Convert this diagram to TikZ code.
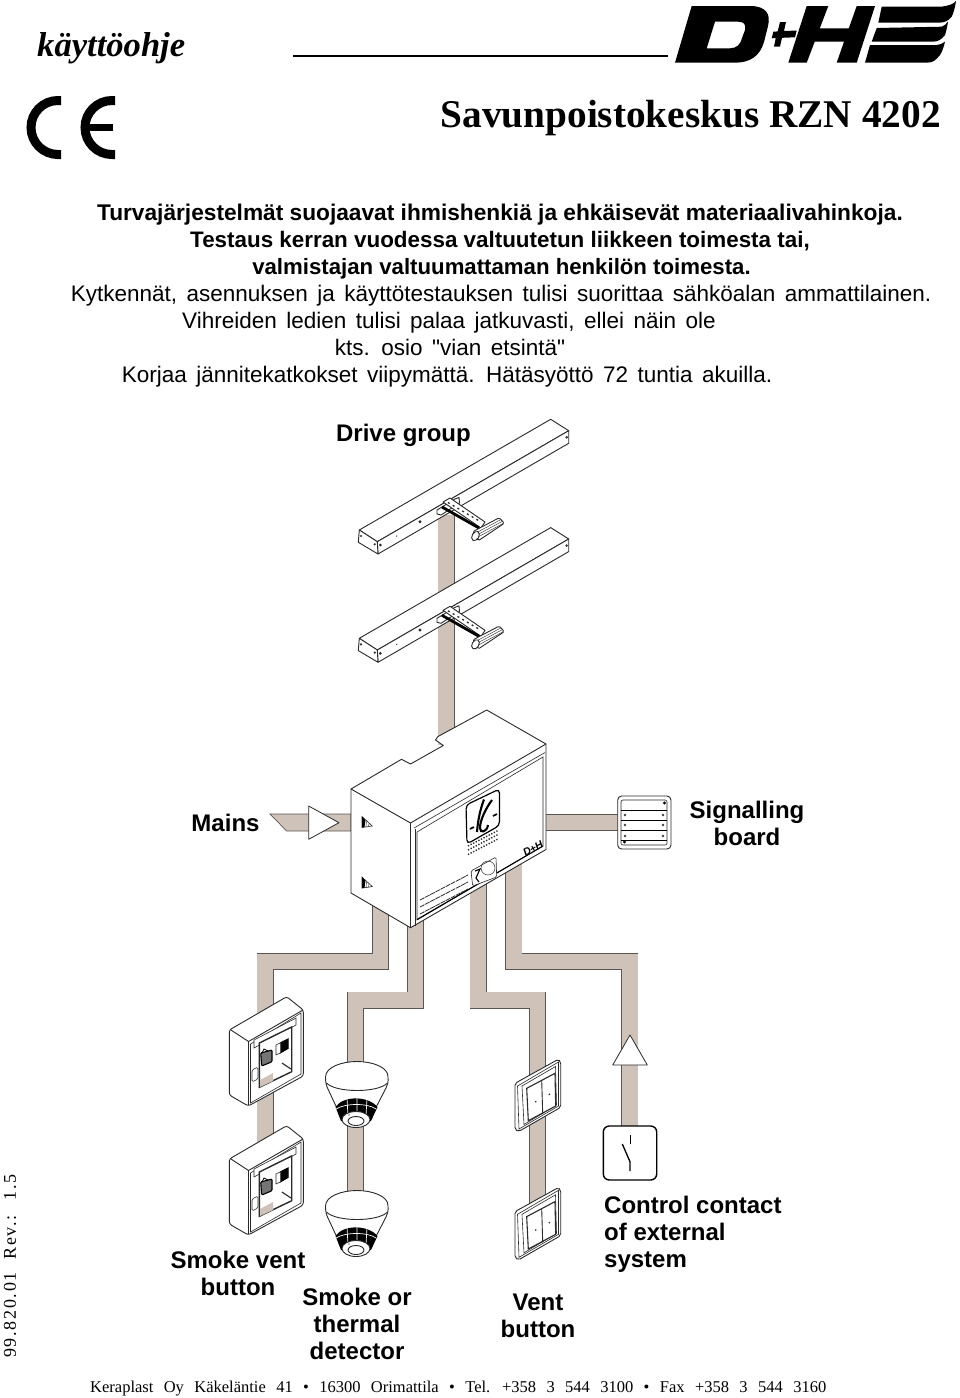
\documentclass[tikz,border=0pt]{standalone}
\usepackage{fontspec}
\setmainfont{Liberation Sans}
\newfontfamily\tmsfont{Liberation Serif}
\newfontfamily\straightq{Liberation Sans}
\newcommand{\widesp}[1]{\spaceskip=#1em\relax}
\definecolor{wirefill}{HTML}{CFC3B9}
\definecolor{wireedge}{HTML}{5A5550}
\definecolor{ink}{HTML}{2A2A2A}
\tikzset{
  wire/.style={draw=wireedge,double=wirefill,double distance=15.6pt,line width=.7pt,line join=miter},
  part/.style={draw=ink,fill=white,line width=.9pt,line join=round},
  thin part/.style={draw=ink,line width=.6pt},
  label/.style={font=\fontsize{24}{27}\selectfont\bfseries,inner sep=0pt,align=center},
  headb/.style={font=\fontsize{22.7}{25}\selectfont\bfseries,inner sep=0pt,anchor=base},
  headr/.style={font=\fontsize{22.5}{25}\selectfont,inner sep=0pt,anchor=base},
}
\newcommand{\ActuatorShape}{%
  \draw[part] (359.3,530) -- (550.7,419.3) -- (568.7,430.7) -- (377.3,541.7) -- cycle;
  \draw[part] (377.3,541.7) -- (568.7,430.7) -- (568.7,443.3) -- (378,554) -- cycle;
  \draw[part] (359.3,530) -- (377.3,541.7) -- (378,554) -- (358.3,542.3) -- cycle;
  \fill[ink] (361,536) circle (1.2) (374.7,544.3) circle (1.2) (380.3,545) circle (1.5) (566.7,437.3) circle (1.4);
  \fill[ink] (420,521.7) circle (1.7);
  \fill[ink] (396.7,536) circle (.7);
  \draw[part] (437,510) -- (455,499) -- (459,497.5) -- (459.5,503) -- (441,515) -- (437,514) -- cycle;
  \draw[part] (443,502) -- (450,498) -- (485,522) -- (481,528) -- cycle;
  \draw[black,line width=2.8pt] (442,507) -- (479,528);
  \draw[ink,line width=1.3pt,dash pattern=on 2pt off 3.5pt] (448,502.5) -- (481,522);
  \draw[part,rounded corners=1.5pt] (472.7,531.7) -- (499.3,517.7) -- (504.3,523.3) -- (478.3,540.7) -- cycle;
  \draw[ink,line width=.4pt] (475,533.5) -- (501,519.5) (476,535.5) -- (502,521.5) (477,537.5) -- (503,523.5);
  \draw[part,rotate around={-30:(475.5,536)}] (475.5,536) ellipse (3.4 and 5);
}
\newcommand{\SmokeBtn}{%
  \draw[part,rounded corners=2.5pt] (229.3,1030) -- (286.7,996.7) -- (303.3,1010) -- (303.3,1076) -- (248.3,1106) -- (229.3,1095) -- cycle;
  \draw[part,fill=none] (231,1030) -- (248.5,1041.5) -- (248.5,1105);
  \draw[part,fill=none] (248.5,1041.5) -- (303,1010);
  \draw[thin part] (250.5,1044) -- (301,1013) -- (301,1074) -- (250.5,1103) -- cycle;
  \draw[thin part,fill=white] (254,1040) -- (296,1018) -- (296,1025) -- (254,1048) -- cycle;
  \draw[ink,line width=1.4pt,fill=white] (259.3,1043) -- (291.7,1027) -- (291.7,1071.7) -- (259.3,1087.3) -- cycle;
  \fill[wirefill] (260,1080) -- (273,1073) -- (273,1081) -- (260,1087) -- cycle;
  \draw[black,line width=1.1pt,fill=ink!65,rounded corners=1pt] (260.7,1053) -- (272,1050) -- (272,1061.7) -- (261.7,1066) -- cycle;
  \draw[black,line width=.8pt] (262,1053) -- (264,1049) -- (268,1051);
  \draw[black,line width=1pt,fill=black] (280.7,1042.7) -- (288,1039) -- (288,1048.5) -- (280.7,1052.7) -- cycle;
  \draw[thin part,fill=white] (276,1045) -- (280.7,1042.7) -- (280.7,1052.7) -- (276,1055) -- cycle;
  \draw[thin part,line width=1.1pt] (282,1063) -- (291,1069);
  \draw[thin part,fill=white,rounded corners=1.5pt] (252,1070) -- (258,1067) -- (258,1079) -- (252,1082) -- cycle;
}
\newcommand{\DetectorShape}{%
  \draw[part] (325.5,1077) .. controls (325.5,1067) and (342,1061.5) .. (357,1061.5) .. controls (372,1061.5) and (388.5,1067) .. (388,1077) .. controls (388.5,1082) and (387.5,1085) .. (386,1088) -- (370,1119) -- (342,1119) -- (327.5,1088) .. controls (326,1085) and (325.5,1081) .. (325.5,1077) -- cycle;
  \draw[part,fill=none] (326.5,1083) .. controls (336,1093) and (378,1093) .. (387.5,1083);
  \fill[black] (335.5,1107) .. controls (343,1095.5) and (368,1095.5) .. (377.5,1107) -- (371,1121) -- (341,1121) -- cycle;
  \draw[white,line width=.7pt] (336,1109) .. controls (345,1103) and (368,1103) .. (376,1109);
  \draw[white,line width=.7pt] (347,1098) -- (348,1116) (357,1097) -- (357,1111) (367,1098) -- (366,1116);
  \draw[part] (356,1119.5) ellipse (14 and 8);
  \draw[part] (356,1121) ellipse (8 and 4.5);
  \fill[black] (349,1115) circle (.7);
}
\newcommand{\VentBtn}{%
  \draw[part,rounded corners=2pt] (515,1083.3) -- (558.3,1059.3) -- (560.7,1061.7) -- (560.7,1107.3) -- (518.3,1131.7) -- (515,1129.3) -- cycle;
  \draw[thin part] (517.5,1086) -- (558.5,1062) -- (558.5,1106) -- (519,1129) -- cycle;
  \draw[thin part] (522,1086) -- (555.5,1066.5) -- (556.5,1105) -- (524,1124.5) -- cycle;
  \draw[ink,line width=1.1pt,fill=white] (526.7,1088.3) -- (555,1073.3) -- (555.7,1106) -- (528.3,1120.7) -- cycle;
  \draw[ink,line width=.9pt] (541.7,1080) -- (542.7,1114);
  \fill[ink] (535.7,1101.7) circle (.9) (549.3,1094.3) circle (.9);
}
\begin{document}
\begin{tikzpicture}[x=1pt,y=-1pt]
\useasboundingbox (0,0) rectangle (960,1398);

% ---------- header ----------
\node[inner sep=0pt,anchor=base west,font=\tmsfont\fontsize{34.6}{36}\selectfont\bfseries\itshape] (manual) at (37,56) {käyttöohje};
\coordinate (ruleA) at (293,56);
\coordinate (ruleB) at (668,56);
\draw[black,line width=1.1pt] (ruleA) -- (ruleB);
\node[inner sep=0pt,anchor=base east,font=\tmsfont\fontsize{39.3}{41}\selectfont\bfseries] (title) at (941,127) {Savunpoistokeskus RZN 4202};
% D+H logo
\fill[black,even odd rule] (675,62.7) -- (691.7,6) -- (750,6) .. controls (766,6) and (771,14) .. (768,26) -- (764,42) .. controls (760,56) and (750,62.7) .. (735,62.7) -- cycle
  (715,21.7) -- (706.7,48.3) -- (730,48.3) .. controls (737,48) and (740,45) .. (742,38) -- (745,30) .. controls (746,24) and (744,21.7) .. (738,21.7) -- cycle;
\fill[black] (780,22) -- (786,22) -- (784,30.8) -- (796.7,30.7) -- (795,37.3) -- (782,37.8) -- (780,46.5) -- (774,46.5) -- (775.8,38) -- (771.7,38.3) -- (773.3,31.7) -- (777.7,31.4) -- cycle;
\fill[black] (788.3,62.7) -- (806.7,6) -- (828.3,6) -- (819.8,28.3) -- (848.8,28.3) -- (856.7,6) -- (875,6) -- (856.7,62.7) -- (836.7,62.7) -- (844,41.7) -- (814.7,41.7) -- (806.7,62.7) -- cycle;
\fill[black] (881.7,6.7) -- (941,6.7) .. controls (948,6) and (954,4) .. (956,1) .. controls (955,8) and (953.5,13) .. (951.7,16.7) .. controls (948,21) and (945,22.7) .. (938,22.7) -- (878.3,22.7) -- cycle;
\fill[black] (876.7,28) -- (941.7,26.7) .. controls (944,26) and (946,24) .. (948,21.7) .. controls (947,28) and (946,32) .. (945,35) .. controls (941,40) and (938,41.7) .. (932,41.7) -- (871.7,41.7) -- cycle;
\fill[black] (870,45) -- (936.7,45) .. controls (940,45) and (942,43.5) .. (945,41.7) .. controls (943.5,48) and (942,52) .. (940,55) .. controls (936,60) and (933,62.7) .. (927,62.7) -- (865,62.7) -- cycle;
% CE mark
\draw[black,line width=9pt] (61,100.5) -- (58,100.5) arc (270:90:27) -- (61,154.5);
\draw[black,line width=9pt] (115,100.5) -- (112,100.5) arc (270:90:27) -- (115,154.5);
\draw[black,line width=6.5pt] (86,127.5) -- (113,127.5);

% ---------- notice text ----------
\node[headb] (t1) at (500,220) {Turvajärjestelmät suojaavat ihmishenkiä ja ehkäisevät materiaalivahinkoja.};
\node[headb,font=\fontsize{22.4}{25}\selectfont\bfseries] (t2) at (500,247) {Testaus kerran vuodessa valtuutetun liikkeen toimesta tai,};
\node[headb,font=\fontsize{22.2}{25}\selectfont\bfseries] (t3) at (501.5,274) {valmistajan valtuumattaman henkilön toimesta.};
\node[headr] (t4) at (501,301) {\widesp{.42}Kytkennät, asennuksen ja käyttötestauksen tulisi suorittaa sähköalan ammattilainen.};
\node[headr] (t5) at (449,328) {\widesp{.42}Vihreiden ledien tulisi palaa jatkuvasti, ellei näin ole};
\node[headr] (t6) at (450,355) {\straightq\widesp{.42}kts. osio "vian etsintä"};
\node[headr] (t7) at (447,382) {\widesp{.42}Korjaa jännitekatkokset viipymättä. Hätäsyöttö 72 tuntia akuilla.};

% ---------- connection points ----------
\coordinate (drive1) at (446,515);
\coordinate (boxTop) at (446,745);
\coordinate (boxRight) at (546,822.5);
\coordinate (boardL) at (618,822.5);
\coordinate (boxA) at (380.5,900);
\coordinate (boxB) at (415.5,920);
\coordinate (boxC) at (478,880);
\coordinate (boxD) at (513.7,860);
\coordinate (btnBottom) at (265,1180);
\coordinate (detBottom) at (355.3,1195);
\coordinate (ventBottom) at (537.6,1225);
\coordinate (contact) at (629.7,1130);

% ---------- wires ----------
\draw[wire] (drive1) -- (boxTop);
\draw[wire] (boxRight) -- (boardL);
\draw[wire] (boxA) -- (380.5,961.5) -| (btnBottom);
\draw[wire] (boxB) -- (415.5,1000) -| (detBottom);
\draw[wire] (boxC) -- (478,1000) -| (ventBottom);
\draw[wire] (boxD) -- (513.7,961.5) -| (contact);
% mains lead
\coordinate (mainsTip) at (270,814);
\draw[draw=wireedge,fill=wirefill,line width=.7pt] (mainsTip) -- (351,814) -- (351,831) -- (286.6,831) -- cycle;
\draw[part,line width=.8pt] (308.7,806) -- (339,822.7) -- (308.7,839.3) -- cycle;

% ---------- drive group ----------
\ActuatorShape
\begin{scope}[shift={(0,108.3)}]
\ActuatorShape
\end{scope}
\node[label] (drive) at (403.5,435) {Drive group};

% ---------- control box ----------
\draw[part,line width=.9pt] (351,789) -- (401.5,759.3) -- (410.5,764) -- (443.3,745.5) -- (435.5,740) -- (438,736.5) -- (486.7,710) -- (546,744) -- (546,849.5) -- (410.5,927.7) -- (351,893) -- cycle;
\draw[part,line width=.9pt,fill=none] (351,789) -- (410.5,823) -- (546,744);
\draw[part,line width=.9pt,fill=none] (410.5,823) -- (410.5,927.7);
\draw[thin part] (414,828) -- (545,752.5);
\draw[thin part] (417,832) -- (543,757) -- (543,846) -- (417,920) -- cycle;
\draw[thin part] (415,829) -- (415,925.5);
\draw[black,line width=1.1pt] (417,919.5) -- (543,846);
% lock marks
\foreach \yy in {0,60.6}{
  \begin{scope}[shift={(0,\yy)}]
  \draw[thin part,fill=white] (362,816.5) -- (372.3,826) -- (362,827.5) -- cycle;
  \fill[black] (362,816.5) -- (365.5,820) -- (364.5,827.2) -- (362,827.5) -- cycle;
  \draw[ink,line width=.4pt] (366.5,821) -- (366,827) (369,823.5) -- (368.5,826.5);
  \end{scope}
}
% emblem
\draw[black,line width=1.2pt,fill=white,rounded corners=4pt] (466,805) -- (499.5,789) -- (499.5,825.5) -- (467,844) -- cycle;
\draw[black,line width=2.1pt] (484,799.5) .. controls (480,810) and (478,820) .. (477,832);
\draw[black,line width=2.1pt] (492,800) .. controls (486,808) and (480,820) .. (480,828) .. controls (480,834) and (487,832) .. (488,825);
\draw[black,line width=1.6pt] (470,829) -- (474,827) (493,816) -- (497,814);
\foreach \dd in {0,4,8.5}{
  \draw[ink,line width=1.4pt,dash pattern=on 1.3pt off 1.6pt] (468,846+\dd) -- (498,830.5+\dd);
}
% indicator panel
\draw[thin part,fill=white,rounded corners=1.5pt] (471,871) -- (496,857) -- (496.7,877) -- (472.7,886) -- cycle;
\draw[ink,line width=.5pt] (488,868) circle (7);
\draw[black,line width=1.1pt] (475,871) -- (480,869) -- (476,878) -- (479,882);
% rating plate lines
\foreach \dd in {0,7,14}{
  \draw[ink,line width=.8pt,dash pattern=on 5pt off .8pt] (420,900+\dd) -- (468,875+\dd);
}
% small logo
\node[inner sep=0pt,rotate=30,font=\fontsize{10.5}{11}\selectfont\bfseries\itshape] (boxlogo) at (533,848.5) {D+H};

% ---------- signalling board ----------
\draw[part,rounded corners=4pt] (617.7,796) rectangle (671,849);
\draw[thin part,rounded corners=2pt] (621,800) rectangle (667,845);
\draw[black,line width=.8pt] (621,810) -- (667,810) (621,820) -- (667,820) (621,830.7) -- (667,830.7) (621,840) -- (667,840);
\fill[black] (664.5,803) circle (1.6) (624.5,842) circle (1.6);
\foreach \yy in {815,825,836}{
  \draw[ink,line width=.4pt,fill=white] (625,\yy) circle (1) (663,\yy) circle (1);
}
\node[label] (mains) at (225.5,823) {Mains};
\node[label] (board) at (747,823.5) {Signalling\\board};

% ---------- smoke vent buttons ----------
\SmokeBtn
\begin{scope}[shift={(0,129)}]
\SmokeBtn
\end{scope}
\node[label] (smoke) at (238,1273.5) {Smoke vent\\button};

% ---------- detectors ----------
\DetectorShape
\begin{scope}[shift={(0,129)}]
\DetectorShape
\end{scope}
\node[label] (detector) at (357,1324) {Smoke or\\thermal\\detector};

% ---------- vent buttons ----------
\VentBtn
\begin{scope}[shift={(0,128.3)}]
\VentBtn
\end{scope}
\node[label] (vent) at (538,1315.5) {Vent\\button};

% ---------- control contact ----------
\draw[part,line width=.8pt] (630,1035) -- (647.3,1065) -- (612.7,1065) -- cycle;
\draw[black,line width=1.4pt,fill=white,rounded corners=6pt] (603.3,1126) rectangle (656.7,1180);
\draw[black,line width=1.3pt] (630.7,1135) -- (630.7,1144);
\draw[black,line width=1.3pt] (622.3,1144) -- (630,1161.7) -- (630,1171);
\node[label,align=left,anchor=west] (contactlabel) at (604,1234) {Control contact\\of external\\system};

% ---------- footer ----------
\node[inner sep=0pt,anchor=base west,font=\tmsfont\fontsize{16.5}{18}\selectfont] (foot) at (90,1392) {\widesp{.63}Keraplast Oy Käkeläntie 41 \textbullet{} 16300 Orimattila \textbullet{} Tel. +358 3 544 3100 \textbullet{} Fax +358 3 544 3160};
\node[inner sep=0pt,anchor=base west,rotate=90,font=\tmsfont\fontsize{18}{19}\selectfont\addfontfeature{LetterSpace=9.5}] (rev) at (16,1358) {\widesp{.7}99.820.01 Rev.: 1.5};
\end{tikzpicture}
\end{document}
